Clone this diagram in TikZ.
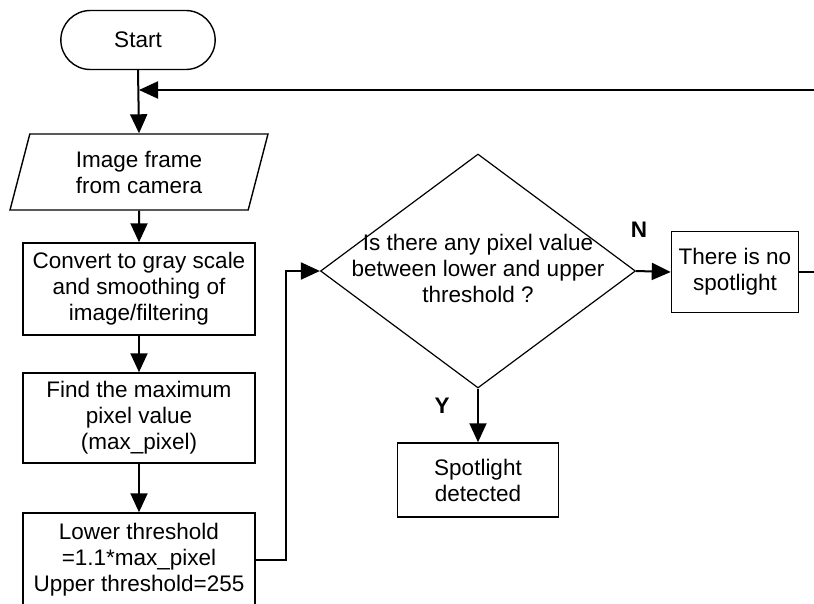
\documentclass[tikz,border=0pt]{standalone}
\usepackage{fontspec}
\setmainfont{Liberation Sans}
\usetikzlibrary{shapes,arrows,positioning,calc,arrows.meta}

\tikzset{
    every node/.style={font=\fontsize{22.5}{26}\selectfont, align=center},
    procbox/.style={draw, line width=1.5pt, rectangle, inner sep=0pt},
    flow/.style={line width=2pt, -{Triangle[length=19pt,width=17pt]}},
    wire/.style={line width=2pt},
    answer/.style={font=\fontsize{22.5}{26}\selectfont\bfseries}
}

\begin{document}
\begin{tikzpicture}[x=1pt,y=-1pt]
    \useasboundingbox (0,0) rectangle (814,603);

    % Left column
    \node[draw, line width=1.4pt, rounded rectangle, minimum width=161pt, minimum height=59pt] (start) at (138,40) {Start};
    \node[draw, line width=1.4pt, trapezium, trapezium left angle=65, trapezium right angle=115,
          trapezium stretches body, minimum width=258pt, minimum height=76pt, inner sep=0pt] (frame) at (139,172) {Image frame\\from camera};
    \node[procbox, minimum width=232pt, minimum height=92pt] (convert) at (139,289) {Convert to gray scale\\and smoothing of\\image/filtering};
    \node[procbox, minimum width=232pt, minimum height=90pt] (findmax) at (139,418) {Find the maximum\\pixel value\\(max\_pixel)};
    \node[procbox, minimum width=232pt, minimum height=94pt] (thresh) at (139,560) {Lower threshold\\=1.1*max\_pixel\\Upper threshold=255};

    % Decision
    \node[draw, line width=1.2pt, diamond, minimum width=315pt, minimum height=234pt, inner sep=0pt] (check) at (478,271) {};
    \node (checktext) at (478,268) {Is there any pixel value\\between lower and upper\\threshold ?};

    % Outcomes
    \node[procbox, minimum width=161pt, minimum height=74pt] (found) at (478,480) {Spotlight\\detected};
    \node[procbox, minimum width=127pt, minimum height=81pt] (nospot) at (735,272) {There is no\\spotlight};

    % Loop ends at the picture edge
    \coordinate (edgeR) at (814,272);
    \coordinate (edgeT) at (814,90);
    \coordinate (merge) at (138,90);

    % Connectors
    \draw[flow] (start.south) -- (frame.north);
    \draw[flow] (frame.south) -- (convert.north);
    \draw[flow] (convert.south) -- (findmax.north);
    \draw[flow] (findmax.south) -- (thresh.north);
    \draw[flow] (thresh.east) -- ++(30,0) |- (check.west);
    \draw[flow] (check.east) -- (nospot.west);
    \draw[flow] (check.south) -- (found.north);
    \draw[wire] (nospot.east) -- (edgeR);
    \draw[flow] (edgeT) -- ([xshift=1pt]merge);

    % Labels
    \node[answer] (labN) at (639,230) {N};
    \node[answer] (labY) at (442,406) {Y};
\end{tikzpicture}
\end{document}
